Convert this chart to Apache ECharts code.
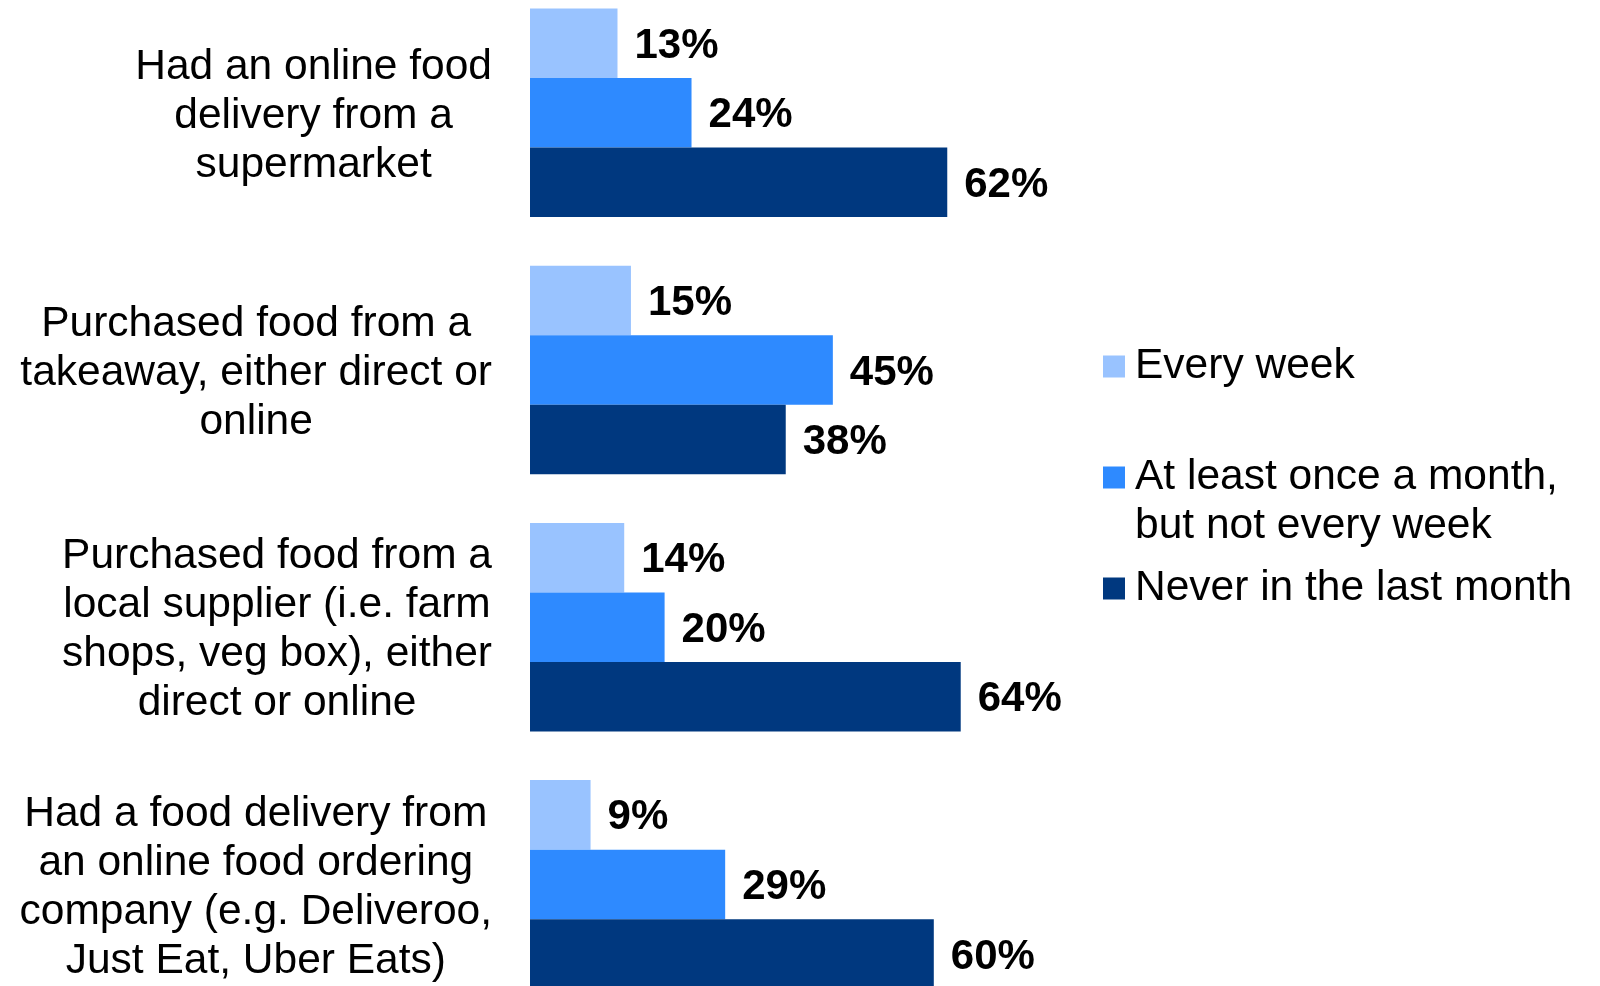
<!DOCTYPE html>
<html>
<head>
<meta charset="utf-8">
<title>Food purchasing frequency</title>
<script src="https://cdn.jsdelivr.net/npm/echarts@6/dist/echarts.min.js"></script>
<style>
  html, body { margin: 0; padding: 0; background: #ffffff; }
  #chart { width: 1600px; height: 986px; }
</style>
</head>
<body>
<div id="chart"></div>
<script>
// Activity categories (line breaks are where the labels wrap)
const categories = [
  'Had an online food\ndelivery from a\nsupermarket',
  'Purchased food from a\ntakeaway, either direct or\nonline',
  'Purchased food from a\nlocal supplier (i.e. farm\nshops, veg box), either\ndirect or online',
  'Had a food delivery from\nan online food ordering\ncompany (e.g. Deliveroo,\nJust Eat, Uber Eats)'
];

const seriesNames = [
  'Every week',
  'At least once a month, but not every week',
  'Never in the last month'
];

// Share of respondents (%)
const everyWeek = [13, 15, 14, 9];
const monthly = [24, 45, 20, 29];
const never = [62, 38, 64, 60];

const colors = ['#99C3FF', '#2E8AFF', '#00387F'];
const FONT = "'Liberation Sans', Arial, sans-serif";

const chart = echarts.init(document.getElementById('chart'), null, { renderer: 'canvas' });

function barSeries(name, data, color) {
  return {
    name: name,
    type: 'bar',
    data: data,
    barGap: '0%',
    barCategoryGap: '18.9%',
    itemStyle: { color: color },
    label: {
      show: true,
      position: 'right',
      distance: 17,
      offset: [0, 3],
      formatter: '{c}%',
      color: '#000000',
      fontFamily: FONT,
      fontWeight: 'bold',
      fontSize: 42
    }
  };
}

chart.setOption({
  animation: false,
  backgroundColor: '#ffffff',
  color: colors,
  grid: {
    left: 530,
    width: 673,
    top: -15.8,
    height: 1028.8,
    containLabel: false,
    outerBoundsMode: 'none'
  },
  xAxis: {
    type: 'value',
    min: 0,
    max: 100,
    show: false
  },
  yAxis: {
    type: 'category',
    data: categories,
    inverse: true,
    axisLine: { show: false },
    axisTick: { show: false },
    splitLine: { show: false },
    axisLabel: {
      interval: 0,
      margin: 38,
      padding: [6, 0, 0, 0],
      color: '#000000',
      fontFamily: FONT,
      fontSize: 42.5,
      lineHeight: 49,
      formatter: function (value) {
        return value.split('\n').map(function (line) {
          return '{c|' + line + '}';
        }).join('\n');
      },
      rich: {
        c: {
          align: 'center',
          color: '#000000',
          fontFamily: FONT,
          fontSize: 42.5,
          lineHeight: 49
        }
      }
    }
  },
  legend: {
    orient: 'vertical',
    left: 1103,
    top: 339,
    padding: 0,
    itemGap: 7,
    itemWidth: 22,
    itemHeight: 22,
    icon: 'rect',
    data: seriesNames,
    formatter: function (name) {
      if (name === seriesNames[1]) {
        return '\nAt least once a month,\nbut not every week';
      }
      return name;
    },
    textStyle: {
      color: '#000000',
      fontFamily: FONT,
      fontSize: 42.5,
      lineHeight: 49,
      padding: [6, 0, 0, 5]
    }
  },
  series: [
    barSeries(seriesNames[0], everyWeek, colors[0]),
    barSeries(seriesNames[1], monthly, colors[1]),
    barSeries(seriesNames[2], never, colors[2])
  ]
});
</script>
</body>
</html>
